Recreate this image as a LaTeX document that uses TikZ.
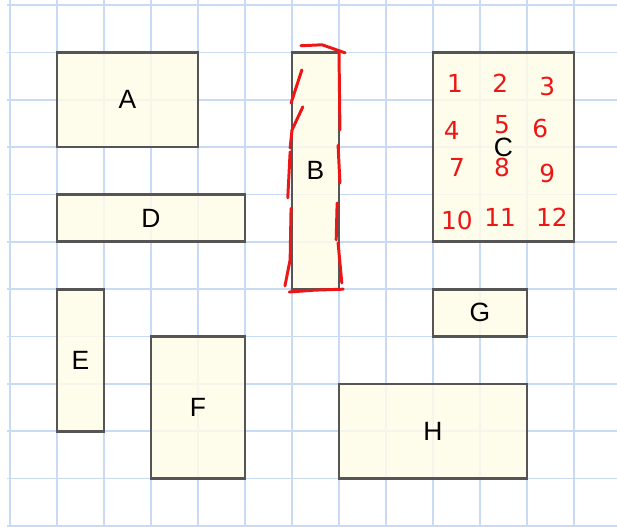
\documentclass[tikz,border=0pt]{standalone}
\usepackage{fontspec}
\setmainfont{Liberation Sans}
\newfontfamily\handfont{DejaVu Sans}
\usetikzlibrary{fit}
\definecolor{gridblue}{RGB}{200,218,246}
\definecolor{boxline}{RGB}{85,85,85}
\definecolor{boxfill}{RGB}{254,252,231}
\definecolor{pen}{RGB}{236,22,22}
\tikzset{
 gridline/.style={gridblue,line width=1pt},
 box/.style={draw=boxline,line width=1.6pt,fill=boxfill,fill opacity=0.85,inner sep=0pt},
 boxlabel/.style={font=\fontsize{16}{18}\selectfont,inner sep=0pt},
 scribble/.style={pen,line width=1.8pt,line cap=round,line join=round},
 num/.style={text=pen,font=\handfont\fontsize{15}{16}\selectfont}
}

\begin{document}
\begin{tikzpicture}[x=1cm,y=1.0077cm]
 \useasboundingbox (-0.213,-0.02) rectangle (12.915,11.106);
 % squared paper
 \foreach \i in {0,...,12} \draw[gridline] (\i,-0.02)--(\i,11.106);
 \foreach \j in {0,...,11} \draw[gridline] (-0.064,\j)--(12.915,\j);
 % rectangles
 \node[box,fit={(1,8)(4,10)},label={[boxlabel]center:A}] (A) {};
 \node[box,fit={(6,5)(7,10)},label={[boxlabel]center:B}] (B) {};
 \node[box,fit={(9,6)(12,10)},label={[boxlabel]center:C}] (C) {};
 \node[box,fit={(1,6)(5,7)},label={[boxlabel]center:D}] (D) {};
 \node[box,fit={(1,2)(2,5)},label={[boxlabel]center:E}] (E) {};
 \node[box,fit={(3,1)(5,4)},label={[boxlabel]center:F}] (F) {};
 \node[box,fit={(9,4)(11,5)},label={[boxlabel]center:G}] (G) {};
 \node[box,fit={(7,1)(11,3)},label={[boxlabel]center:H}] (H) {};
 % red pen round B
 \draw[scribble] (6.19,10.14)--(6.64,10.16)--(7.13,9.99);
 \draw[scribble] (7.0,9.99)--(7.02,8.36);
 \draw[scribble] (6.98,8.04)--(7.02,7.24);
 \draw[scribble] (6.96,6.82)--(6.94,6.04);
 \draw[scribble] (6.98,5.98)--(7.06,5.13);
 \draw[scribble] (6.21,9.63)--(5.98,8.93);
 \draw[scribble] (6.23,8.85)--(6.0,8.36)--(5.96,7.98);
 \draw[scribble] (5.96,7.90)--(5.91,6.93);
 \draw[scribble] (5.98,6.71)--(5.96,5.62)--(5.85,5.07);
 \draw[scribble] (5.94,4.94)--(6.49,4.98)--(7.09,5.0);
 % red pen numbers in C
 \node[num] (n1) at (9.47,9.35) {1};
 \node[num] (n2) at (10.43,9.35) {2};
 \node[num] (n3) at (11.43,9.27) {3};
 \node[num] (n4) at (9.40,8.36) {4};
 \node[num] (n5) at (10.47,8.47) {5};
 \node[num] (n6) at (11.28,8.40) {6};
 \node[num] (n7) at (9.51,7.56) {7};
 \node[num] (n8) at (10.47,7.56) {8};
 \node[num] (n9) at (11.43,7.45) {9};
 \node[num] (n10) at (9.51,6.46) {10};
 \node[num] (n11) at (10.43,6.52) {11};
 \node[num] (n12) at (11.53,6.52) {12};
\end{tikzpicture}
\end{document}
